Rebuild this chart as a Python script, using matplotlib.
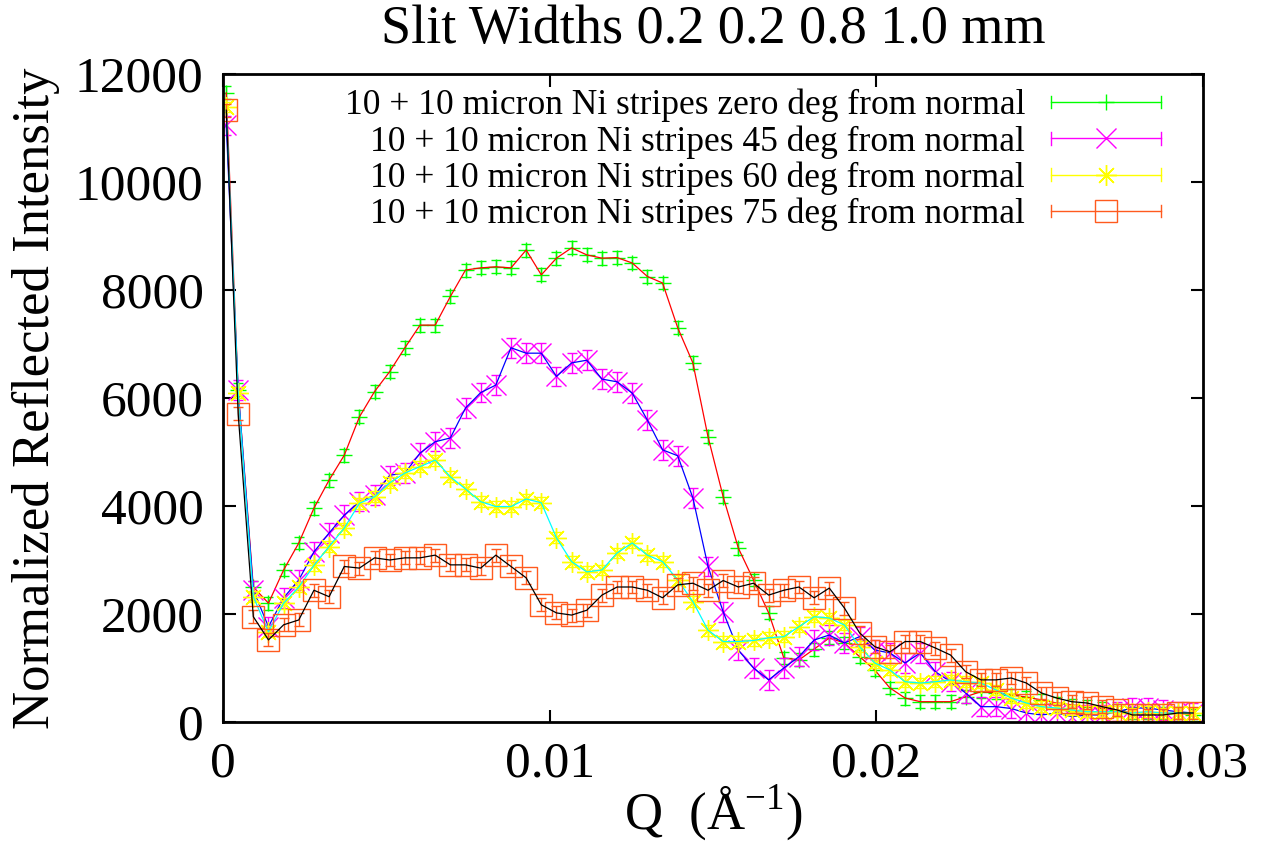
import matplotlib
matplotlib.use("Agg")
import matplotlib.pyplot as plt
from matplotlib.lines import Line2D
from matplotlib.legend_handler import HandlerBase

plt.rcParams['font.family'] = ['Liberation Serif', 'DejaVu Serif']
plt.rcParams['mathtext.fontset'] = 'custom'
plt.rcParams['mathtext.rm'] = 'Liberation Serif'

# Q values (1/A): first point near zero, then evenly stepped
q_first = 0.0001
q_step = 0.000464
n_pts = 65

zero_deg = [11650, 6150, 2500, 2200, 2815, 3315, 3960, 4480, 4940, 5650,
            6120, 6490, 6930, 7350, 7350, 7880, 8370, 8410, 8430, 8410,
            8740, 8280, 8590, 8780, 8650, 8590, 8600, 8500, 8250, 8130,
            7300, 6650, 5280, 4170, 3220, 2630, 2020, 1185, 1150, 1350,
            1556, 1463, 1210, 963, 630, 444, 376, 376, 376, 469,
            561, 537, 500, 463, 407, 352, 315, 284, 259, 222,
            167, 167, 167, 167, 130]
deg45 = [11050, 6150, 2440, 1765, 2300, 2630, 3150, 3500, 3830, 4080,
         4200, 4570, 4610, 4980, 5190, 5260, 5815, 6100, 6240, 6930,
         6830, 6830, 6400, 6650, 6700, 6350, 6300, 6090, 5590, 5040,
         4930, 4150, 2880, 2040, 1330, 1000, 780, 1000, 1210, 1518,
         1611, 1463, 1580, 1333, 1278, 1093, 1278, 931, 746, 537,
         284, 284, 250, 167, 130, 167, 98, 130, 130, 191,
         259, 259, 222, 191, 167]
deg60 = [11390, 6100, 2320, 1670, 2200, 2500, 2900, 3250, 3590, 4050,
         4170, 4430, 4610, 4730, 4850, 4540, 4315, 4080, 3990, 3990,
         4130, 4060, 3410, 2970, 2780, 2815, 3130, 3315, 3090, 2970,
         2630, 2230, 1700, 1490, 1490, 1510, 1560, 1580, 1765, 1950,
         1926, 1796, 1395, 1093, 963, 746, 722, 746, 778, 746,
         722, 593, 444, 352, 284, 259, 222, 191, 191, 191,
         167, 191, 167, 167, 167]
deg75 = [11330, 5710, 1950, 1520, 1800, 1890, 2440, 2320, 2880, 2850,
         3040, 3000, 3040, 3040, 3090, 2910, 2910, 2850, 3090, 2880,
         2670, 2170, 2020, 1980, 2070, 2350, 2500, 2500, 2440, 2300,
         2540, 2570, 2440, 2620, 2500, 2570, 2350, 2440, 2500, 2300,
         2480, 2110, 1650, 1395, 1300, 1490, 1490, 1370, 1240, 930,
         780, 780, 815, 722, 537, 444, 376, 352, 284, 222,
         130, 130, 130, 167, 167]
# rough error bar half-heights per series
errs = [120, 180, 100, 120]

labels = ['10 + 10 micron Ni stripes zero deg from normal',
          '10 + 10 micron Ni stripes 45 deg from normal',
          '10 + 10 micron Ni stripes 60 deg from normal',
          '10 + 10 micron Ni stripes 75 deg from normal']

q = [q_first] + [q_step * i for i in range(1, n_pts)]


class XErrHandler(HandlerBase):
    # gnuplot style key: horizontal bar with end caps, point in the middle
    def create_artists(self, legend, orig, xd, yd, w, h, fs, trans):
        y = h / 2 - yd
        x0, x1 = -xd, -xd + w
        c = orig.get_markeredgecolor()
        arts = [Line2D([x0, x1], [y, y], color=c, lw=1)]
        for x in (x0, x1):
            arts.append(Line2D([x, x], [y - 0.25 * h, y + 0.25 * h], color=c, lw=1))
        arts.append(Line2D([(x0 + x1) / 2], [y], ls='none', marker=orig.get_marker(),
                           ms=orig.get_markersize(), mfc='none', mec=c,
                           mew=orig.get_markeredgewidth()))
        for a in arts:
            a.set_transform(trans)
        return arts


fig = plt.figure(figsize=(12.77, 8.51), dpi=100)
ax = fig.add_axes([223 / 1277, 1 - 722 / 851, 980 / 1277, 648 / 851])

series = [zero_deg, deg45, deg60, deg75]
pt_colors = ['#00ff00', '#ff00ff', '#ffff00', '#ff5a1e']
ln_colors = ['#ff0000', '#0000ff', '#00ffff', '#000000']
markers = ['+', 'x', (8, 2, 0), 's']
msizes = [12, 15, 15, 16]

handles = []
for ys, e, pc, lc, m, ms, lab in zip(series, errs, pt_colors, ln_colors, markers, msizes, labels):
    ax.errorbar(q, ys, yerr=e, fmt='none', ecolor=pc, elinewidth=1, capsize=3.5, capthick=1)
    ax.plot(q, ys, ls='none', marker=m, ms=ms, mfc='none', mec=pc, mew=1)
    ax.plot(q, ys, color=lc, lw=0.9)
    handles.append(Line2D([], [], ls='none', marker=m, ms=ms, mfc='none', mec=pc, mew=1))

ax.set_xlim(0, 0.03)
ax.set_ylim(0, 12000)
ax.set_xticks([0, 0.01, 0.02, 0.03])
ax.set_xticklabels(['0', '0.01', '0.02', '0.03'])
ax.set_yticks(range(0, 12001, 2000))
ax.tick_params(direction='in', length=9, width=1.5, top=True, right=True,
               labelsize=37, pad=14)
for s in ax.spines.values():
    s.set_linewidth(2)

ax.set_title('Slit Widths 0.2 0.2 0.8 1.0 mm', fontsize=39, pad=22)
ax.set_xlabel(r'Q  (Å$^{-1}$)', fontsize=38, labelpad=-4)
ax.set_ylabel('Normalized Reflected Intensity', fontsize=38, labelpad=11)

leg = ax.legend(handles, labels, loc='upper right', bbox_to_anchor=(0.957, 0.977),
                frameon=False, markerfirst=False, fontsize=25.5, handlelength=3.1,
                handletextpad=0.73, labelspacing=0.08, borderpad=0, borderaxespad=0,
                handler_map={Line2D: XErrHandler()})
leg._legend_box.align = 'right'

fig.savefig('out.png', dpi=100)
